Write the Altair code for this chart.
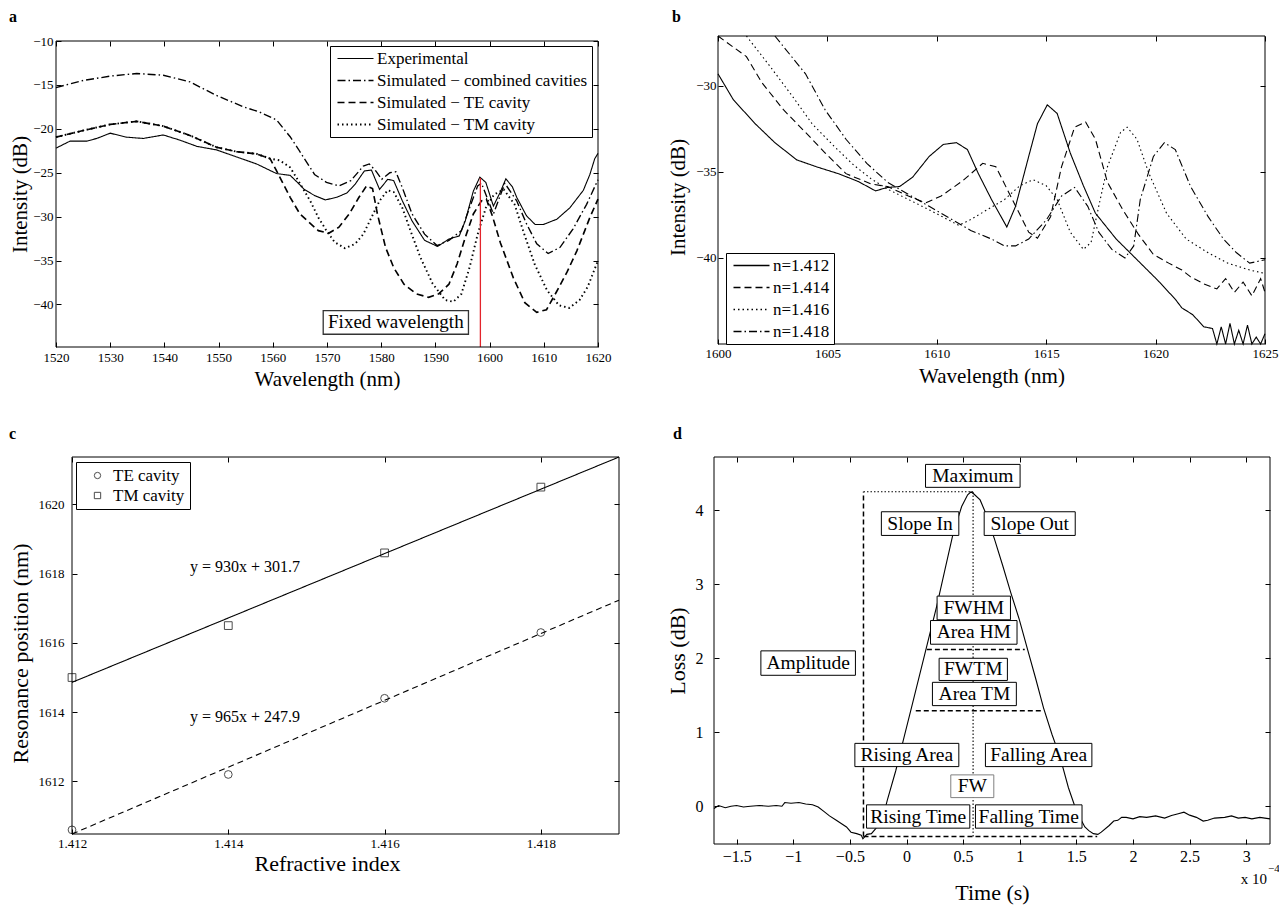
import altair as alt
import pandas as pd

FONT = "Liberation Serif, Times New Roman, serif"
TICK = 5

# ---------------- Panel a data ----------------
A_NAMES = ["Experimental", "Simulated − combined cavities", "Simulated − TE cavity", "Simulated − TM cavity"]
a_exp_wl = [1520, 1522.6, 1525.7, 1527.5, 1530, 1533, 1536.1, 1539.8, 1542.9, 1546, 1549.6, 1553.3, 1557, 1560.7,
            1563.2, 1564.7, 1565.8, 1567.7, 1569.7, 1571.8, 1573.7, 1575.2, 1576.9, 1578.2, 1579.7, 1581.2, 1582.3,
            1583.9, 1585.7, 1588, 1590.4, 1592.5, 1594.4, 1595.5, 1597, 1598.2, 1599.3, 1600.7, 1601.9, 1603.0,
            1604.2, 1605, 1606.8, 1608.4, 1609.9, 1612.4, 1614.8, 1617.3, 1618.5, 1619.4, 1620]
a_exp_db = [-22.2, -21.4, -21.4, -21.1, -20.5, -20.95, -21.1, -20.7, -21.3, -22.0, -22.4, -23.2, -24.0, -25.1,
            -25.3, -26.2, -26.9, -27.6, -28.1, -27.8, -27.3, -26.3, -24.8, -24.7, -26.9, -25.75, -25.9,
            -28.2, -30.5, -32.7, -33.4, -32.55, -32.2, -30.5, -27.1, -25.5, -26.1, -28.8, -27.3, -25.7,
            -26.6, -27.8, -29.9, -30.9, -30.9, -30.3, -29.0, -27.0, -25.2, -23.4, -22.8]
a_comb_wl = [1520, 1525, 1530, 1534.9, 1539.8, 1544.7, 1549.6, 1554.6, 1557.6, 1560.7, 1563.2, 1564.7, 1565.4,
             1567.7, 1569.9, 1572.2, 1574.4, 1576.7, 1577.8, 1579, 1580.1, 1581.6, 1582.7, 1583.9, 1585.7, 1588,
             1590.3, 1592.5, 1594.8, 1596.3, 1597.8, 1598.5, 1600.7, 1602.8, 1605, 1606.8, 1608.7, 1610.8, 1613,
             1615.4, 1617.9, 1620]
a_comb_db = [-15.3, -14.5, -14.0, -13.7, -13.9, -14.65, -16.2, -17.5, -18.1, -19.0, -20.9, -22.3, -23.0,
             -25.2, -26.1, -26.5, -25.9, -24.25, -24.0, -24.8, -25.75, -25.0, -24.9, -26.7, -29.7, -32.0,
             -33.3, -32.7, -31.6, -29.0, -26.5, -26.2, -29.7, -26.2, -28.2, -30.8, -33.1, -34.2, -33.5,
             -31.4, -28.6, -25.8]
a_te_wl = [1520, 1525, 1530, 1534.9, 1539.8, 1544.7, 1549.6, 1553.3, 1557, 1559.5, 1560.7, 1563.2, 1565, 1568.4,
           1570.3, 1572.2, 1574.1, 1575.9, 1577.3, 1578.4, 1579.3, 1580.8, 1582.3, 1584.2, 1586.5, 1588.75, 1590.6,
           1592.5, 1594, 1595.5, 1597, 1598.5, 1599.4, 1600.5, 1602, 1604.4, 1606.5, 1608.7, 1610.5, 1612.4,
           1614.3, 1616.1, 1618.5, 1620]
a_te_db = [-20.95, -20.2, -19.5, -19.15, -19.7, -20.75, -22.1, -22.6, -22.85, -23.4, -24.8, -27.8, -29.7, -31.6,
           -31.9, -31.2, -29.7, -27.8, -26.5, -26.8, -29.7, -33.5, -35.8, -37.7, -38.8, -39.2, -38.8,
           -37.7, -35.4, -32.4, -29.7, -28.2, -28.0, -29.9, -33.0, -37.0, -39.8, -40.9, -40.6, -38.5,
           -36.3, -33.9, -30.1, -28.0]
a_tm_wl = [1520, 1525, 1530, 1534.9, 1539.8, 1544.7, 1549.6, 1553.3, 1557, 1559.5, 1561.3, 1563.2, 1564.7, 1566.9,
           1568.4, 1569.9, 1571.4, 1573.3, 1575.2, 1576.7, 1578.2, 1579.7, 1581.2, 1582.3, 1583.9, 1585.4, 1587.2,
           1589.5, 1591.8, 1593.3, 1594.8, 1596.3, 1597.8, 1599.3, 1600.8, 1602.6, 1604.6, 1606.4, 1608.3, 1610.6,
           1612.8, 1614.7, 1616.6, 1618.1, 1620]
a_tm_db = [-20.95, -20.2, -19.5, -19.15, -19.7, -20.75, -22.1, -22.6, -22.85, -23.4, -23.6, -24.4, -25.9, -28.2,
           -30.1, -31.6, -32.9, -33.6, -33.1, -32.0, -30.1, -28.2, -27.0, -27.2, -29.0, -31.6, -34.6,
           -37.65, -39.5, -39.7, -38.8, -35.8, -32.0, -29.0, -27.5, -26.9, -28.6, -32.0, -35.4, -38.4,
           -40.1, -40.4, -39.5, -38.0, -35.0]
A_X_DOMAIN = [1520, 1620]
A_Y_DOMAIN = [-44.85, -10]
A_X_TICKS = [1520, 1530, 1540, 1550, 1560, 1570, 1580, 1590, 1600, 1610, 1620]
A_Y_TICKS = [-40, -35, -30, -25, -20, -15, -10]
A_FIXED_WL = 1598.3
A_FIXED_TOP = -25.6
A_BOX_TEXT = "Fixed wavelength"
A_BOX_X = [1569.3, 1596.1]
A_BOX_Y = [-40.7, -43.4]

# ---------------- Panel b data ----------------
B_NAMES = ["n=1.412", "n=1.414", "n=1.416", "n=1.418"]
b412_wl = [1600, 1600.7, 1601.7, 1602.6, 1603.6, 1604.5, 1605.5, 1606.4, 1607.2, 1607.75, 1608.3, 1608.9, 1609.65,
           1610.3, 1610.9, 1611.4, 1611.9, 1612.5, 1613.2, 1613.6, 1614.2, 1614.6, 1615.05, 1615.5, 1616.1, 1616.7,
           1617.25, 1618.2, 1619.15, 1620.1, 1620.9, 1621.2, 1621.7, 1622.2, 1622.6, 1622.8, 1623.0, 1623.2,
           1623.4, 1623.6, 1623.8, 1624.0, 1624.2, 1624.4, 1624.6, 1624.8, 1625]
b412_db = [-29.3, -30.8, -32.2, -33.3, -34.3, -34.7, -35.1, -35.55, -36.1, -35.9, -35.85, -35.3, -34.1,
           -33.4, -33.3, -33.7, -35.1, -36.6, -38.2, -37.0, -34.1, -32.2, -31.1, -31.6, -33.9, -35.8,
           -37.4, -38.9, -40.1, -41.3, -42.4, -42.9, -43.3, -44.0, -44.1, -45.3, -44.0, -45.4,
           -43.8, -45.5, -44.2, -45.3, -43.9, -45.4, -44.6, -45.3, -44.4]
b414_wl = [1600, 1601.3, 1602, 1603, 1604, 1604.9, 1605.85, 1607, 1607.75, 1608.7, 1609.5, 1610.2, 1611.2, 1612.1,
           1612.7, 1613.45, 1614.2, 1614.6, 1615.2, 1615.7, 1616.3, 1616.8, 1617.25, 1617.8, 1618.5, 1619.2,
           1619.9, 1620.6, 1621.2, 1621.6, 1622.2, 1622.8, 1623.2, 1623.6, 1624.0, 1624.4, 1624.8, 1625]
b414_db = [-26.6, -28.3, -29.8, -31.4, -32.7, -33.9, -35.1, -35.7, -35.85, -36.4, -36.8, -36.4, -35.5, -34.5,
           -34.7, -36.6, -38.5, -38.85, -37.6, -34.7, -32.4, -32.1, -33.1, -35.6, -37.2, -38.6,
           -39.8, -40.3, -40.7, -41.1, -41.5, -41.8, -41.2, -42.0, -41.4, -42.2, -41.2, -42.0]
b416_wl = [1601.3, 1602.4, 1603.4, 1604.3, 1605.3, 1606.2, 1607, 1607.75, 1608.7, 1609.65, 1610.4, 1611, 1611.5,
           1612.3, 1613.1, 1613.8, 1614.4, 1615, 1615.5, 1616.1, 1616.7, 1617.05, 1617.4, 1617.8, 1618.4, 1618.7,
           1619.15, 1619.7, 1620.5, 1621.4, 1622.4, 1623.3, 1624.3, 1625]
b416_db = [-26.7, -28.9, -30.6, -32.2, -33.5, -34.6, -35.4, -36.0, -36.6, -37.2, -37.7, -38.1, -37.8,
           -37.2, -36.6, -35.8, -35.45, -35.8, -36.6, -38.5, -39.5, -39.1, -37.0, -34.7, -32.7, -32.4,
           -33.1, -35.1, -37.4, -38.9, -39.7, -40.3, -40.7, -40.9]
b418_wl = [1602.6, 1604, 1604.9, 1605.85, 1606.8, 1607.75, 1608.7, 1609.65, 1610.6, 1611.55, 1612.5, 1613.1,
           1613.6, 1614.2, 1615, 1615.7, 1616.3, 1616.9, 1617.4, 1618, 1618.6, 1619, 1619.3, 1619.9, 1620.4,
           1620.9, 1621.6, 1622.4, 1623.1, 1623.7, 1624.3, 1625]
b418_db = [-26.9, -29.3, -31.4, -33.1, -34.5, -35.6, -36.3, -37.0, -37.7, -38.4, -38.9, -39.3,
           -39.3, -38.9, -37.8, -36.4, -35.9, -37.0, -38.5, -39.5, -40.0, -39.3, -36.6, -34.1, -33.3,
           -33.7, -35.85, -37.6, -38.9, -39.7, -40.3, -40.1]
B_X_DOMAIN = [1600, 1625]
B_Y_DOMAIN = [-45, -27.1]
B_X_TICKS = [1600, 1605, 1610, 1615, 1620, 1625]
B_Y_TICKS = [-40, -35, -30]

# ---------------- Panel c data ----------------
C_NAMES = ["TE cavity", "TM cavity"]
C_FIT_NAMES = ["TE fit", "TM fit"]
c_n = [1.412, 1.414, 1.416, 1.418]
c_te = [1610.6, 1612.2, 1614.4, 1616.3]
c_tm = [1615.0, 1616.5, 1618.6, 1620.5]
C_FIT_TEXT = ["y = 930x + 301.7", "y = 965x + 247.9"]
C_FIT_X = [1.41351, 1.41351]
C_FIT_Y = [1618.19, 1613.85]
C_X_DOMAIN = [1.412, 1.419]
C_Y_DOMAIN = [1610.48, 1621.37]
C_X_TICKS = [1.412, 1.414, 1.416, 1.418]
C_Y_TICKS = [1612, 1614, 1616, 1618, 1620]

# ---------------- Panel d data ----------------
d_t = [-1.70, -1.66, -1.60, -1.55, -1.50, -1.44, -1.38, -1.30, -1.22, -1.15,
       -1.10, -1.075, -1.02, -0.95, -0.89, -0.83, -0.78, -0.73, -0.68, -0.62,
       -0.57, -0.53, -0.49, -0.44, -0.40, -0.385, -0.35, -0.31, -0.27, -0.24,
       -0.20, -0.17, -0.095, -0.022, 0.05, 0.123, 0.196, 0.268, 0.34, 0.414,
       0.487, 0.54, 0.57, 0.595, 0.65, 0.70, 0.777, 0.85, 0.92, 0.995,
       1.067, 1.14, 1.21, 1.285, 1.357, 1.43, 1.50, 1.54, 1.575, 1.61,
       1.65, 1.69, 1.72, 1.79, 1.83, 1.866, 1.90, 1.94, 2.0, 2.06,
       2.12, 2.2, 2.28, 2.34, 2.40, 2.45, 2.50, 2.56, 2.62, 2.66,
       2.72, 2.81, 2.87, 2.93, 2.99, 3.05, 3.12, 3.21]
d_loss = [-0.03, 0.01, -0.02, 0.0, 0.01, -0.01, 0.0, 0.01, 0.0, 0.01,
          0.0, 0.05, 0.04, 0.05, 0.03, 0.02, -0.01, -0.07, -0.13, -0.19,
          -0.24, -0.28, -0.35, -0.37, -0.39, -0.44, -0.38, -0.37, -0.30, -0.24,
          -0.10, 0.08, 0.48, 0.93, 1.37, 1.82, 2.27, 2.71, 3.2, 3.70,
          4.05, 4.21, 4.25, 4.22, 4.14, 3.96, 3.61, 3.25, 2.89, 2.53,
          2.13, 1.73, 1.33, 0.97, 0.66, 0.25, -0.06, -0.18, -0.28, -0.33,
          -0.37, -0.38, -0.35, -0.26, -0.20, -0.19, -0.15, -0.15, -0.17, -0.14,
          -0.15, -0.13, -0.16, -0.125, -0.10, -0.08, -0.12, -0.15, -0.20, -0.19,
          -0.16, -0.15, -0.13, -0.16, -0.15, -0.17, -0.15, -0.17]
D_LABELS = ["Maximum", "Slope In", "Slope Out", "FWHM", "Area HM", "Amplitude", "FWTM", "Area TM",
            "Rising Area", "Falling Area", "FW", "Rising Time", "Falling Time"]
d_box_x1 = [0.168, -0.222, 0.686, 0.27, 0.212, -1.286, 0.288, 0.229, -0.456, 0.697, 0.391, -0.353, 0.609]
d_box_x2 = [1.003, 0.462, 1.49, 0.918, 0.976, -0.451, 0.891, 0.97, 0.462, 1.637, 0.771, 0.559, 1.55]
d_box_y1 = [4.62, 3.98, 3.98, 2.84, 2.51, 2.10, 2.0, 1.675, 0.85, 0.85, 0.424, 0.019, 0.019]
d_box_y2 = [4.31, 3.66, 3.66, 2.52, 2.19, 1.77, 1.70, 1.36, 0.536, 0.536, 0.117, -0.296, -0.296]
d_box_edge = ["black"] * 10 + ["gray"] + ["black"] * 2
d_seg_x1 = [-0.38, 0.588, -0.38, 0.18, 0.082, -0.38]
d_seg_x2 = [0.588, 0.588, -0.38, 1.044, 1.206, 1.684]
d_seg_y1 = [4.25, -0.41, -0.41, 2.12, 1.29, -0.41]
d_seg_y2 = [4.25, 4.25, 4.25, 2.12, 1.29, -0.41]
d_seg_style = ["dot", "dot", "dash", "dash", "dash", "dash"]
D_X_DOMAIN = [-1.7, 3.21]
D_Y_DOMAIN = [-0.51, 4.72]
D_X_TICKS = [-1.5, -1, -0.5, 0, 0.5, 1, 1.5, 2, 2.5, 3]
D_Y_TICKS = [0, 1, 2, 3, 4]
D_EXP_BASE = "x 10"
D_EXP_SUP = "−4"
PANEL_LETTERS = ["a", "b", "c", "d"]

# ---------------- layout (pixels inside the single view) ----------------
W_VIEW, H_VIEW = 1271, 897
A_PX, A_PY = [48, 590], [339, 33]
B_PX, B_PY = [710, 1257], [336, 28]
C_PX, C_PY = [64, 611], [826, 449]
D_PX, D_PY = [706, 1262], [836, 449]
LETTER_X = [1, 664, 1, 665]
LETTER_Y = [14, 14, 431, 431]


def offs(px, py):
    return {"bottom": (py[0] - TICK) - H_VIEW, "left": -(px[0] + TICK),
            "top": -(py[1] + TICK), "right": (px[1] - TICK) - W_VIEW}


def ax_main(orient, offset, values, fmt, title, lab, tsize, labpad, titlepad, **extra):
    return alt.Axis(orient=orient, offset=offset, tickSize=TICK, tickWidth=1, tickColor="black", domain=False,
                    values=values, format=fmt, title=title, labelPadding=labpad, titlePadding=titlepad,
                    labelFontSize=lab, titleFontSize=tsize, labelFont=FONT, titleFont=FONT,
                    titleFontWeight="normal", labelColor="black", titleColor="black",
                    labelFlush=False, labelOverlap=False, grid=False, minExtent=0, **extra)


def ax_mirror(orient, offset, values):
    return alt.Axis(orient=orient, offset=offset, tickSize=TICK, tickWidth=1, tickColor="black", domain=False,
                    values=values, labels=False, title=None, grid=False, minExtent=0, maxExtent=0)


def frame_layer(xdom, ydom, xs, ys, xticks, yticks, px, py):
    o = offs(px, py)
    fdf = pd.DataFrame({"x1": [xdom[0]], "x2": [xdom[1]], "y1": [ydom[0]], "y2": [ydom[1]]})
    return alt.Chart(fdf).mark_rect(fillOpacity=0, stroke="black", strokeWidth=1).encode(
        x=alt.X("x1:Q", scale=xs, axis=ax_mirror("top", o["top"], xticks)), x2="x2:Q",
        y=alt.Y("y1:Q", scale=ys, axis=ax_mirror("right", o["right"], yticks)), y2="y2:Q")


def series_df(names, xs, ys, xname, yname):
    frames = []
    for nm, xv, yv in zip(names, xs, ys):
        frames.append(pd.DataFrame({xname: xv, yname: yv, "series": nm}))
    return pd.concat(frames, ignore_index=True)


def legend_lines(x, y):
    return alt.Legend(title=None, orient="none", legendX=x, legendY=y, symbolType="M-1,0H5", symbolSize=144,
                      symbolStrokeColor="black", labelFontSize=17, labelFont=FONT, labelColor="black",
                      labelOffset=25, padding=4, rowPadding=4, fillColor="white", strokeColor="black",
                      labelLimit=400, symbolOffset=1)


# ================= Panel a =================
oa = offs(A_PX, A_PY)
dfa = series_df(A_NAMES, [a_exp_wl, a_comb_wl, a_te_wl, a_tm_wl], [a_exp_db, a_comb_db, a_te_db, a_tm_db], "wl", "db")
xs_a = alt.Scale(domain=A_X_DOMAIN, range=A_PX, nice=False, zero=False)
ys_a = alt.Scale(domain=A_Y_DOMAIN, range=A_PY, nice=False, zero=False, clamp=True)
leg_a = legend_lines(322, 38)
a_lines = alt.Chart(dfa).mark_line(color="black").encode(
    x=alt.X("wl:Q", scale=xs_a, axis=ax_main("bottom", oa["bottom"], A_X_TICKS, "d", "Wavelength (nm)", 13, 21, 4, 4)),
    y=alt.Y("db:Q", scale=ys_a, axis=ax_main("left", oa["left"], A_Y_TICKS, "d", "Intensity (dB)", 13, 21, 3, 2)),
    strokeDash=alt.StrokeDash("series:N", scale=alt.Scale(domain=A_NAMES, range=[[1, 0], [8, 3, 1.5, 3], [7, 4], [1.5, 3]]), legend=leg_a),
    strokeWidth=alt.StrokeWidth("series:N", scale=alt.Scale(domain=A_NAMES, range=[1.1, 1.9, 1.1, 1.1]), legend=leg_a),
)
fixed_df = pd.DataFrame({"wl": [A_FIXED_WL], "y1": [A_Y_DOMAIN[0]], "y2": [A_FIXED_TOP]})
a_red = alt.Chart(fixed_df).mark_rule(color="#e3242b", strokeWidth=1.3).encode(
    x=alt.X("wl:Q", scale=xs_a, axis=None), y=alt.Y("y1:Q", scale=ys_a, axis=None), y2="y2:Q")
abox_df = pd.DataFrame({"x1": [A_BOX_X[0]], "x2": [A_BOX_X[1]], "y1": [A_BOX_Y[0]], "y2": [A_BOX_Y[1]],
                        "xc": [(A_BOX_X[0] + A_BOX_X[1]) / 2], "yc": [(A_BOX_Y[0] + A_BOX_Y[1]) / 2], "t": [A_BOX_TEXT]})
a_box = alt.Chart(abox_df).mark_rect(fill="white", stroke="#333333", strokeWidth=1.3).encode(
    x=alt.X("x1:Q", scale=xs_a, axis=None), x2="x2:Q", y=alt.Y("y1:Q", scale=ys_a, axis=None), y2="y2:Q")
a_boxtext = alt.Chart(abox_df).mark_text(font=FONT, fontSize=19, color="black").encode(
    x=alt.X("xc:Q", scale=xs_a, axis=None), y=alt.Y("yc:Q", scale=ys_a, axis=None), text="t:N")
a_frame = frame_layer(A_X_DOMAIN, A_Y_DOMAIN, xs_a, ys_a, A_X_TICKS, A_Y_TICKS, A_PX, A_PY)
panel_a = alt.layer(a_lines, a_red, a_box, a_boxtext, a_frame).resolve_axis(x="independent", y="independent")

# ================= Panel b =================
ob = offs(B_PX, B_PY)
dfb = series_df(B_NAMES, [b412_wl, b414_wl, b416_wl, b418_wl], [b412_db, b414_db, b416_db, b418_db], "wl", "db")
xs_b = alt.Scale(domain=B_X_DOMAIN, range=B_PX, nice=False, zero=False)
ys_b = alt.Scale(domain=B_Y_DOMAIN, range=B_PY, nice=False, zero=False, clamp=True)
b_lines = alt.Chart(dfb).mark_line(color="black", strokeWidth=1.1).encode(
    x=alt.X("wl:Q", scale=xs_b, axis=ax_main("bottom", ob["bottom"], B_X_TICKS, "d", "Wavelength (nm)", 13, 21, 3, 5)),
    y=alt.Y("db:Q", scale=ys_b, axis=ax_main("left", ob["left"], B_Y_TICKS, "d", "Intensity (dB)", 13, 21, 2, 7,
                                             titleY=189)),
    strokeDash=alt.StrokeDash("series:N", scale=alt.Scale(domain=B_NAMES, range=[[1, 0], [7, 4], [1.5, 3], [8, 3, 1.5, 3]]),
                              legend=legend_lines(718, 245)),
)
b_frame = frame_layer(B_X_DOMAIN, B_Y_DOMAIN, xs_b, ys_b, B_X_TICKS, B_Y_TICKS, B_PX, B_PY)
panel_b = alt.layer(b_lines, b_frame).resolve_axis(x="independent", y="independent")

# ================= Panel c =================
oc = offs(C_PX, C_PY)
dfc = pd.concat([pd.DataFrame({"n": c_n, "pos": c_te, "cavity": C_NAMES[0], "fit": C_FIT_NAMES[0]}),
                 pd.DataFrame({"n": c_n, "pos": c_tm, "cavity": C_NAMES[1], "fit": C_FIT_NAMES[1]})], ignore_index=True)
xs_c = alt.Scale(domain=C_X_DOMAIN, range=C_PX, nice=False, zero=False)
ys_c = alt.Scale(domain=C_Y_DOMAIN, range=C_PY, nice=False, zero=False)
c_points = alt.Chart(dfc).mark_point(filled=False, color="black", size=60, strokeWidth=1).encode(
    x=alt.X("n:Q", scale=xs_c, axis=ax_main("bottom", oc["bottom"], C_X_TICKS, ".3f", "Refractive index", 13, 22, 3, 3,
                                            titleX=319)),
    y=alt.Y("pos:Q", scale=ys_c, axis=ax_main("left", oc["left"], C_Y_TICKS, "d", "Resonance position (nm)", 13, 22, 8, 6,
                                              titleY=645)),
    shape=alt.Shape("cavity:N", scale=alt.Scale(domain=C_NAMES, range=["circle", "square"]),
                    legend=alt.Legend(title=None, orient="none", legendX=68, legendY=454, symbolSize=40,
                                      symbolStrokeColor="black", symbolStrokeWidth=1, labelFontSize=17,
                                      labelFont=FONT, labelColor="black", padding=5, rowPadding=2, symbolOffset=8,
                                      labelOffset=7, fillColor="white", strokeColor="black")),
)
c_fit = alt.Chart(dfc).transform_regression("n", "pos", groupby=["fit"], extent=C_X_DOMAIN).mark_line(
    color="black", strokeWidth=1.1).encode(
    x=alt.X("n:Q", scale=xs_c, axis=None), y=alt.Y("pos:Q", scale=ys_c, axis=None),
    strokeDash=alt.StrokeDash("fit:N", scale=alt.Scale(domain=C_FIT_NAMES, range=[[6, 4], [1, 0]]), legend=None))
ctext_df = pd.DataFrame({"x": C_FIT_X, "y": C_FIT_Y, "t": C_FIT_TEXT})
c_text = alt.Chart(ctext_df).mark_text(font=FONT, fontSize=16, align="left", color="black").encode(
    x=alt.X("x:Q", scale=xs_c, axis=None), y=alt.Y("y:Q", scale=ys_c, axis=None), text="t:N")
c_frame = frame_layer(C_X_DOMAIN, C_Y_DOMAIN, xs_c, ys_c, C_X_TICKS, C_Y_TICKS, C_PX, C_PY)
panel_c = alt.layer(c_fit, c_points, c_text, c_frame).resolve_axis(x="independent", y="independent")

# ================= Panel d =================
od = offs(D_PX, D_PY)
dfd = pd.DataFrame({"t": d_t, "loss": d_loss})
xs_d = alt.Scale(domain=D_X_DOMAIN, range=D_PX, nice=False, zero=False)
ys_d = alt.Scale(domain=D_Y_DOMAIN, range=D_PY, nice=False, zero=False)
d_line = alt.Chart(dfd).mark_line(color="black", strokeWidth=1.1).encode(
    x=alt.X("t:Q", scale=xs_d, axis=ax_main("bottom", od["bottom"], D_X_TICKS, "~g", "Time (s)", 16, 22, 4, 18)),
    y=alt.Y("loss:Q", scale=ys_d, axis=ax_main("left", od["left"], D_Y_TICKS, "d", "Loss (dB)", 16, 22, 11, 6)),
)
seg_df = pd.DataFrame({"x1": d_seg_x1, "x2": d_seg_x2, "y1": d_seg_y1, "y2": d_seg_y2, "style": d_seg_style})
d_segs = alt.Chart(seg_df).mark_rule(color="black").encode(
    x=alt.X("x1:Q", scale=xs_d, axis=None), x2="x2:Q",
    y=alt.Y("y1:Q", scale=ys_d, axis=None), y2="y2:Q",
    strokeDash=alt.StrokeDash("style:N", scale=alt.Scale(domain=["dash", "dot"], range=[[5, 3], [1.5, 2]]), legend=None),
    strokeWidth=alt.StrokeWidth("style:N", scale=alt.Scale(domain=["dash", "dot"], range=[1.5, 1.1]), legend=None),
)
box_df = pd.DataFrame({"label": D_LABELS, "x1": d_box_x1, "x2": d_box_x2, "y1": d_box_y1, "y2": d_box_y2,
                       "edge": d_box_edge})
box_df["xc"] = (box_df["x1"] + box_df["x2"]) / 2
box_df["yc"] = (box_df["y1"] + box_df["y2"]) / 2
d_boxes = alt.Chart(box_df).mark_rect(fill="white", strokeWidth=1).encode(
    x=alt.X("x1:Q", scale=xs_d, axis=None), x2="x2:Q",
    y=alt.Y("y1:Q", scale=ys_d, axis=None), y2="y2:Q",
    stroke=alt.Stroke("edge:N", scale=None),
)
d_labels = alt.Chart(box_df).mark_text(font=FONT, fontSize=19.5, color="black").encode(
    x=alt.X("xc:Q", scale=xs_d, axis=None), y=alt.Y("yc:Q", scale=ys_d, axis=None), text="label:N")
d_frame = frame_layer(D_X_DOMAIN, D_Y_DOMAIN, xs_d, ys_d, D_X_TICKS, D_Y_TICKS, D_PX, D_PY)
panel_d = alt.layer(d_line, d_segs, d_boxes, d_labels, d_frame).resolve_axis(x="independent", y="independent")

# ================= free texts (panel letters, exponent) =================
letters_df = pd.DataFrame({"t": PANEL_LETTERS, "px": LETTER_X, "py": LETTER_Y})
letters = alt.Chart(letters_df).mark_text(font=FONT, fontSize=16, fontWeight="bold", align="left",
                                          baseline="alphabetic", color="black").encode(
    x=alt.X("px:Q", scale=None, axis=None), y=alt.Y("py:Q", scale=None, axis=None), text="t:N")
exp_df = pd.DataFrame({"base": [D_EXP_BASE], "sup": [D_EXP_SUP]})
d_exp = alt.Chart(exp_df).mark_text(font=FONT, fontSize=15, align="right", baseline="middle", color="black").encode(
    x=alt.value(D_PX[1] - 3), y=alt.value(D_PY[0] + 35), text="base:N")
d_sup = alt.Chart(exp_df).mark_text(font=FONT, fontSize=11, align="left", baseline="middle", color="black").encode(
    x=alt.value(D_PX[1] - 2), y=alt.value(D_PY[0] + 25), text="sup:N")

IND = dict(x="independent", y="independent", strokeDash="independent", strokeWidth="independent",
           shape="independent", stroke="independent")
chart = alt.layer(panel_a, panel_b, panel_c, panel_d, letters, d_exp, d_sup).resolve_scale(**IND).resolve_axis(
    x="independent", y="independent").resolve_legend(
    strokeDash="independent", strokeWidth="independent", shape="independent", stroke="independent").properties(
    width=W_VIEW, height=H_VIEW, autosize=alt.AutoSizeParams(type="none"), padding=0, background="white"
).configure_view(strokeWidth=0).configure_axis(
    labelFont=FONT, titleFont=FONT, labelColor="black", titleColor="black", titleFontWeight="normal").configure_legend(
    labelFont=FONT, labelColor="black")

chart.save("out.html", embed_options={"renderer": "svg", "actions": False})
